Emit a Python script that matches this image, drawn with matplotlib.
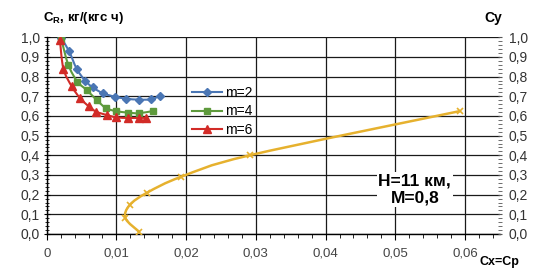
import numpy as np
import matplotlib
matplotlib.use("Agg")
import matplotlib.pyplot as plt
from matplotlib.path import Path
from matplotlib.patches import PathPatch
from matplotlib.ticker import MultipleLocator, FuncFormatter

plt.rcParams['font.family'] = ['Liberation Sans', 'DejaVu Sans']

# m=2, m=4, m=6 : C_R vs Cx
cx_m2 = [0.0021, 0.0032, 0.0043, 0.0055, 0.0066, 0.0081, 0.0098, 0.0114, 0.0132, 0.0150, 0.0163]
cr_m2 = [0.995, 0.93, 0.84, 0.78, 0.745, 0.715, 0.698, 0.688, 0.683, 0.685, 0.703]
cx_m4 = [0.0021, 0.0031, 0.0044, 0.0058, 0.0072, 0.0085, 0.0099, 0.0117, 0.0132, 0.0152]
cr_m4 = [0.99, 0.86, 0.775, 0.73, 0.68, 0.64, 0.625, 0.617, 0.614, 0.625]
cx_m6 = [0.0019, 0.0024, 0.0036, 0.0048, 0.0060, 0.0071, 0.0086, 0.0100, 0.0117, 0.0132, 0.0143]
cr_m6 = [0.985, 0.84, 0.75, 0.69, 0.65, 0.622, 0.605, 0.593, 0.59, 0.59, 0.591]

# polar at H=11 km, M=0.8 : Cy vs Cx
polar_cx = [0.0133, 0.0113, 0.0119, 0.0144, 0.0193, 0.0291, 0.0593]
polar_cy = [0.01, 0.08, 0.147, 0.21, 0.291, 0.40, 0.625]

dec = FuncFormatter(lambda v, p: f"{v:.1f}".replace('.', ','))
xfmt = FuncFormatter(lambda v, p: "0" if abs(v) < 1e-9 else f"{v:.2f}".replace('.', ','))


def smooth_path(ax, xs, ys, t=0.5):
    # Catmull-Rom style bezier through the points (Excel "smoothed line"),
    # built in display space so the bends look the same as in Excel
    pts = ax.transData.transform(np.column_stack([xs, ys]))
    verts = [pts[0]]
    codes = [Path.MOVETO]
    n = len(pts)
    for i in range(n - 1):
        p0 = pts[i - 1] if i > 0 else pts[i]
        p1, p2 = pts[i], pts[i + 1]
        p3 = pts[i + 2] if i + 2 < n else pts[i + 1]
        c1 = p1 + (p2 - p0) * t / 3
        c2 = p2 - (p3 - p1) * t / 3
        verts += [c1, c2, p2]
        codes += [Path.CURVE4] * 3
    verts = ax.transData.inverted().transform(np.array(verts))
    return Path(verts, codes)


def smooth_series(ax, xs, ys, color, lw, marker, ms, label, mew=None):
    ax.add_patch(PathPatch(smooth_path(ax, xs, ys), facecolor='none', edgecolor=color, lw=lw, zorder=3))
    ax.plot(xs, ys, ls='none', marker=marker, ms=ms, color=color, zorder=4,
            mew=mew if mew else 1.0)
    # legend proxy
    ax.plot([], [], color=color, lw=lw, marker=marker, ms=ms, label=label)


fig = plt.figure(figsize=(5.48, 2.73), dpi=100)
ax = fig.add_axes([0.0852, 0.1429, 0.827, 0.7205])

ax.set_xlim(0, 0.065)
ax.set_ylim(0, 1.0)
ax.xaxis.set_major_locator(MultipleLocator(0.01))
ax.xaxis.set_minor_locator(MultipleLocator(0.002))
ax.yaxis.set_major_locator(MultipleLocator(0.1))
ax.yaxis.set_minor_locator(MultipleLocator(0.02))
ax.xaxis.set_major_formatter(xfmt)
ax.yaxis.set_major_formatter(dec)
ax.grid(True, which='major', color='#1a1a1a', lw=0.9)
ax.set_axisbelow(True)
for s in ['top', 'right']:
    ax.spines[s].set_visible(False)
ax.spines['left'].set_linewidth(1.0)
ax.spines['bottom'].set_linewidth(1.0)
ax.axhline(1.0, color='#a0a0a0', lw=1.2, zorder=0.5)
ax.tick_params(axis='y', which='both', direction='inout', length=4, labelsize=10, labelcolor='#333333', pad=3)
ax.tick_params(axis='y', which='minor', length=3)
ax.tick_params(axis='x', which='major', direction='out', length=4, labelsize=9.5, labelcolor='#444444', pad=6)
ax.tick_params(axis='x', which='minor', direction='out', length=3)

ax2 = ax.twinx()
ax2.set_ylim(0, 1.0)
ax2.yaxis.set_major_locator(MultipleLocator(0.1))
ax2.yaxis.set_minor_locator(MultipleLocator(0.02))
ax2.yaxis.set_major_formatter(dec)
for s in ['top', 'left', 'bottom', 'right']:
    ax2.spines[s].set_visible(False)
ax2.tick_params(axis='y', which='both', direction='inout', length=3, labelsize=10, labelcolor='#333333', pad=5, color='#555555')

smooth_series(ax, cx_m2, cr_m2, '#4a76b4', 1.5, 'D', 4, 'm=2')
smooth_series(ax, cx_m4, cr_m4, '#5e9a3c', 1.5, 's', 5, 'm=4')
smooth_series(ax, cx_m6, cr_m6, '#d22b27', 1.5, '^', 5.5, 'm=6')

gold = '#e6b12e'
smooth_series(ax2, polar_cx, polar_cy, gold, 1.8, 'x', 5, None, mew=1.2)

handles, labels = ax.get_legend_handles_labels()
leg = ax.legend(handles, labels, loc='upper left', bbox_to_anchor=(0.305, 0.79), frameon=False, fontsize=10,
                handlelength=2.2, handletextpad=0.2, labelspacing=0.35, borderpad=0)

fig.text(0.079, 0.935, r"C$_\mathregular{R}$, кг/(кгс ч)", fontsize=9.5, fontweight='bold', ha='left', va='center')
fig.text(0.883, 0.935, "Cy", fontsize=10, fontweight='bold', ha='left', va='center')
fig.text(0.875, 0.04, "Cx=Cp", fontsize=9, fontweight='bold', ha='left', va='center')
ax.text(0.0528, 0.225, "H=11 км,\nM=0,8", fontsize=12.5, fontweight='bold', ha='center', va='center',
        linespacing=1.15, bbox=dict(facecolor='white', edgecolor='none', pad=1), zorder=5)

fig.savefig("out.png", dpi=100)
